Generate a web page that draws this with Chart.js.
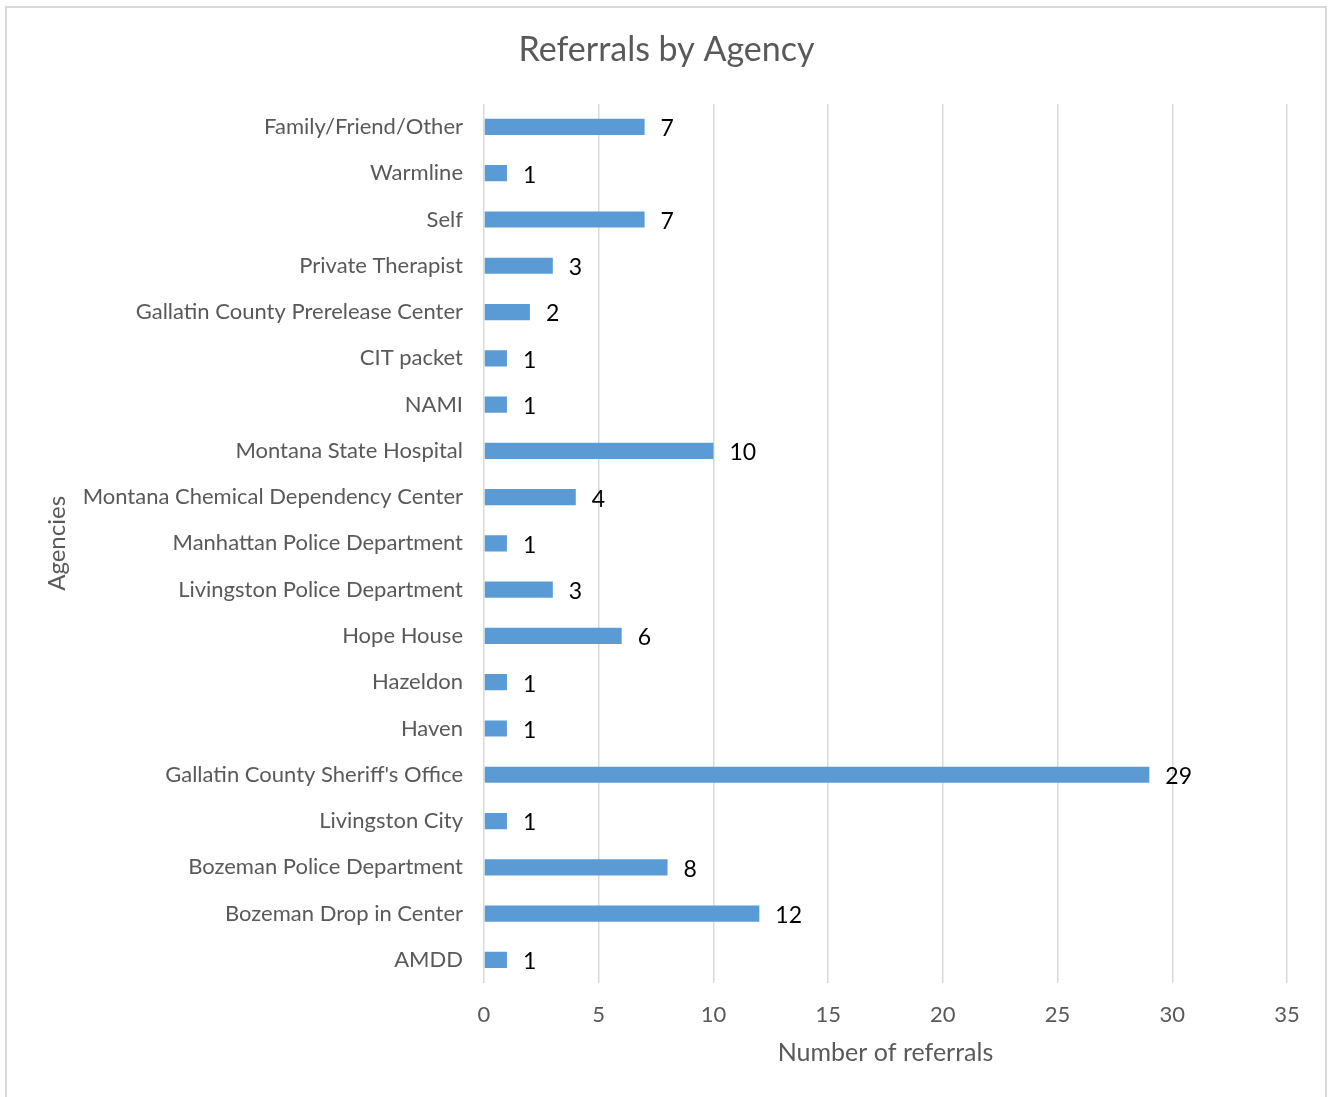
<!DOCTYPE html>
<html>
<head>
    <title>Referrals by Agency</title>
    <style>
        body { margin: 0; background: #fff; }
        .frame {
            position: absolute;
            left: 5px; top: 6px;
            width: 1322px; height: 1100px;
            border: 2px solid #d9d9d9;
            box-sizing: border-box;
        }
        .wrap { position: absolute; left: 0; top: 0; width: 1333px; height: 1097px; }
    </style>
</head>
<body>

<div class="frame"></div>
<div class="wrap">
    <canvas id="agencyChart" width="1333" height="1097"></canvas>
</div>

<script src="https://cdn.jsdelivr.net/npm/chart.js"></script>
<script>
    const agencies = [
        'Family/Friend/Other', 'Warmline', 'Self', 'Private Therapist',
        'Gallatin County Prerelease Center', 'CIT packet', 'NAMI',
        'Montana State Hospital', 'Montana Chemical Dependency Center',
        'Manhattan Police Department', 'Livingston Police Department',
        'Hope House', 'Hazeldon', 'Haven', "Gallatin County Sheriff's Office",
        'Livingston City', 'Bozeman Police Department', 'Bozeman Drop in Center', 'AMDD'
    ];
    const referrals = [7, 1, 7, 3, 2, 1, 1, 10, 4, 1, 3, 6, 1, 1, 29, 1, 8, 12, 1];
    const xTicks = [0, 5, 10, 15, 20, 25, 30, 35];

    const FONT = 'Lato, "Open Sans", sans-serif';
    const GREY = '#595959';

    // value labels at the end of each bar
    const barLabels = {
        id: 'barLabels',
        afterDatasetsDraw(chart) {
            const ctx = chart.ctx;
            const meta = chart.getDatasetMeta(0);
            ctx.save();
            ctx.font = '23px ' + FONT;
            ctx.fillStyle = '#000';
            ctx.textAlign = 'left';
            ctx.textBaseline = 'middle';
            meta.data.forEach((bar, i) => {
                ctx.fillText(String(referrals[i]), bar.x + 16, bar.y + 2);
            });
            ctx.restore();
        }
    };

    new Chart(document.getElementById('agencyChart'), {
        type: 'bar',
        data: {
            labels: agencies,
            datasets: [{
                data: referrals,
                backgroundColor: '#5b9bd5',
                categoryPercentage: 1,
                barPercentage: 0.35
            }]
        },
        options: {
            indexAxis: 'y',
            responsive: false,
            animation: false,
            layout: { padding: 0 },
            plugins: {
                legend: { display: false },
                tooltip: { enabled: false },
                title: {
                    display: true,
                    text: 'Referrals by Agency',
                    color: GREY,
                    font: { family: FONT, size: 34, weight: 'normal' },
                    padding: { top: 30, bottom: 33 }
                }
            },
            scales: {
                x: {
                    min: 0, max: 35,
                    afterBuildTicks: s => { s.ticks = xTicks.map(v => ({ value: v })); },
                    grid: { color: '#d9d9d9', lineWidth: 1.5, drawTicks: false },
                    border: { display: false },
                    ticks: { color: GREY, padding: 19, font: { family: FONT, size: 22 } },
                    title: {
                        display: true,
                        text: 'Number of referrals',
                        color: GREY,
                        font: { family: FONT, size: 25 },
                        padding: { top: 0, bottom: 29 }
                    },
                    afterFit: s => { s.height = 114; }
                },
                y: {
                    grid: { display: false },
                    border: { display: false },
                    ticks: { color: GREY, padding: 13, autoSkip: false, font: { family: FONT, size: 22 } },
                    title: {
                        display: true,
                        text: 'Agencies',
                        color: GREY,
                        font: { family: FONT, size: 24 },
                        padding: { top: 43, bottom: 0 }
                    },
                    afterFit: s => { s.width = 484; }
                },
                spacer: {
                    type: 'linear',
                    axis: 'y',
                    position: 'right',
                    grid: { display: false },
                    border: { display: false },
                    ticks: { display: false },
                    afterFit: s => { s.width = 46; }
                }
            }
        },
        plugins: [barLabels]
    });
</script>

</body>
</html>
